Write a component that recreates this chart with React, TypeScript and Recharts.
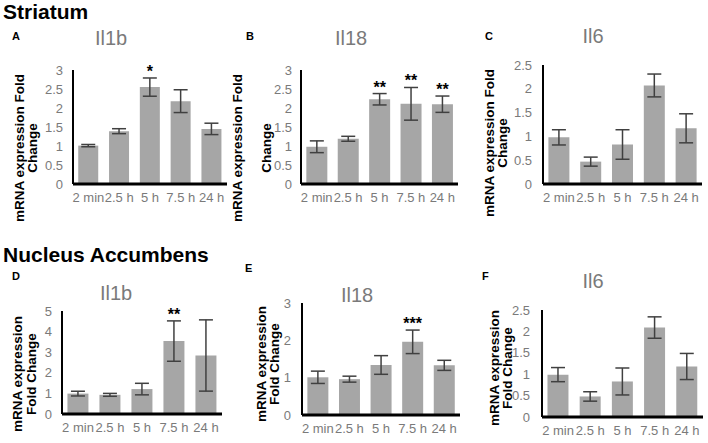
import { BarChart, Bar, XAxis, YAxis, ErrorBar, LabelList } from 'recharts'

const timePoints = ['2 min', '2.5 h', '5 h', '7.5 h', '24 h']

// Striatum
const strIl1b = [1.01, 1.39, 2.55, 2.18, 1.45]
const strIl1bErr = [0.03, 0.065, 0.24, 0.3, 0.15]
const strIl1bSig = ['', '', '*', '', '']

const strIl18 = [0.98, 1.19, 2.23, 2.11, 2.1]
const strIl18Err = [0.155, 0.065, 0.15, 0.43, 0.215]
const strIl18Sig = ['', '', '**', '**', '**']

const strIl6 = [0.98, 0.47, 0.83, 2.07, 1.17]
const strIl6Err = [0.16, 0.095, 0.31, 0.24, 0.305]
const strIl6Sig = ['', '', '', '', '']

// Nucleus Accumbens
const naIl1b = [0.99, 0.93, 1.21, 3.54, 2.84]
const naIl1bErr = [0.115, 0.07, 0.28, 0.98, 1.73]
const naIl1bSig = ['', '', '', '**', '']

const naIl18 = [1.01, 0.96, 1.34, 1.96, 1.33]
const naIl18Err = [0.165, 0.08, 0.25, 0.315, 0.135]
const naIl18Sig = ['', '', '', '***', '']

const naIl6 = [0.99, 0.48, 0.83, 2.09, 1.18]
const naIl6Err = [0.165, 0.11, 0.315, 0.25, 0.305]
const naIl6Sig = ['', '', '', '', '']

const ticks3 = [0, 0.5, 1, 1.5, 2, 2.5, 3]
const ticks25 = [0, 0.5, 1, 1.5, 2, 2.5]
const ticks5 = [0, 1, 2, 3, 4, 5]
const ticks3int = [0, 1, 2, 3]

const FONT = '"Liberation Sans", Arial, sans-serif'
const GRAY = '#7a7a7a'

interface Row {
  time: string
  value: number
  err: number
  sig: string
}

function makeRows(vals: number[], errs: number[], sigs: string[]): Row[] {
  return timePoints.map((t, i) => ({ time: t, value: vals[i], err: errs[i], sig: sigs[i] }))
}

function SigLabel(props: any) {
  const { x, y, width, height, index, rows } = props
  const row: Row = rows[index]
  if (!row || !row.sig) return null
  const ppu = height / row.value
  const top = y - row.err * ppu
  return (
    <text
      x={x + width / 2}
      y={top - 1}
      textAnchor="middle"
      fontSize={16}
      fontWeight="bold"
      fontFamily={FONT}
      fill="#000"
    >
      {row.sig}
    </text>
  )
}

interface PanelProps {
  rows: Row[]
  ticks: number[]
  left: number
  top: number
  width: number
  height: number
  mTop: number
  mRight: number
  axisW: number
  tickGap: number
}

function Panel({ rows, ticks, left, top, width, height, mTop, mRight, axisW, tickGap }: PanelProps) {
  return (
    <div style={{ position: 'absolute', left, top, width, height }}>
      <BarChart
        width={width}
        height={height}
        data={rows}
        margin={{ top: mTop, right: mRight, left: 0, bottom: 0 }}
        barCategoryGap="17%"
      >
        <XAxis
          dataKey="time"
          interval={0}
          height={26}
          tickLine={false}
          tickMargin={3}
          axisLine={{ stroke: '#000', strokeWidth: 3 }}
          tick={{ fill: GRAY, fontSize: 13, fontFamily: FONT }}
        />
        <YAxis
          domain={[0, ticks[ticks.length - 1]]}
          ticks={ticks}
          interval={0}
          width={axisW}
          tickLine={false}
          tickMargin={tickGap}
          axisLine={{ stroke: '#000', strokeWidth: 2 }}
          tick={{ fill: GRAY, fontSize: 13, fontFamily: FONT }}
        />
        <Bar dataKey="value" fill="#a6a6a6" isAnimationActive={false}>
          <ErrorBar dataKey="err" width={7} stroke="#404040" strokeWidth={1.5} isAnimationActive={false} />
          <LabelList dataKey="sig" content={(p: any) => <SigLabel {...p} rows={rows} />} />
        </Bar>
      </BarChart>
    </div>
  )
}

function YLabel({ x1, x2, cy, l1, l2 }: { x1: number; x2: number; cy: number; l1: string; l2: string }) {
  return (
    <g fontFamily={FONT} fontWeight="bold" fontSize={13.5} fill="#000" textAnchor="middle">
      <text transform={`translate(${x1},${cy}) rotate(-90)`}>{l1}</text>
      <text transform={`translate(${x2},${cy}) rotate(-90)`}>{l2}</text>
    </g>
  )
}

export default function App() {
  return (
    <div
      style={{
        position: 'absolute',
        left: 0,
        top: 0,
        width: 708,
        height: 443,
        background: '#fff',
        overflow: 'hidden',
        fontFamily: FONT,
      }}
    >
      <svg width={708} height={443} style={{ position: 'absolute', left: 0, top: 0 }}>
        <g fontFamily={FONT} fontWeight="bold" fill="#000" fontSize={21}>
          <text x={3} y={19}>Striatum</text>
          <text x={3} y={262}>Nucleus Accumbens</text>
        </g>
        <g fontFamily={FONT} fontWeight="bold" fill="#000" fontSize={11}>
          <text x={12} y={40}>A</text>
          <text x={246} y={40}>B</text>
          <text x={485} y={40}>C</text>
          <text x={12} y={280}>D</text>
          <text x={245} y={272}>E</text>
          <text x={482} y={280}>F</text>
        </g>
        <g fontFamily={FONT} fill={GRAY} fontSize={20} textAnchor="middle">
          <text x={111} y={45}>Il1b</text>
          <text x={351} y={45}>Il18</text>
          <text x={593} y={43}>Il6</text>
          <text x={116} y={300}>Il1b</text>
          <text x={357} y={302}>Il18</text>
          <text x={593} y={288}>Il6</text>
        </g>
        <YLabel x1={24} x2={37} cy={148} l1="mRNA expression Fold" l2="Change" />
        <YLabel x1={242} x2={271} cy={148} l1="mRNA expression Fold" l2="Change" />
        <YLabel x1={494} x2={507} cy={143} l1="mRNA expression Fold" l2="Change" />
        <YLabel x1={22} x2={36} cy={374} l1="mRNA expression" l2="Fold Change" />
        <YLabel x1={266} x2={279} cy={364} l1="mRNA expression" l2="Fold Change" />
        <YLabel x1={499} x2={512} cy={368} l1="mRNA expression" l2="Fold Change" />
      </svg>

      <Panel rows={makeRows(strIl1b, strIl1bErr, strIl1bSig)} ticks={ticks3}
        left={40} top={60} width={195} height={150} mTop={10} mRight={8} axisW={33} tickGap={4} />
      <Panel rows={makeRows(strIl18, strIl18Err, strIl18Sig)} ticks={ticks3}
        left={265} top={60} width={200} height={150} mTop={10} mRight={7} axisW={36} tickGap={3} />
      <Panel rows={makeRows(strIl6, strIl6Err, strIl6Sig)} ticks={ticks25}
        left={505} top={55} width={203} height={155} mTop={10} mRight={6} axisW={38} tickGap={5} />
      <Panel rows={makeRows(naIl1b, naIl1bErr, naIl1bSig)} ticks={ticks5}
        left={30} top={300} width={200} height={140} mTop={11} mRight={8} axisW={32} tickGap={4} />
      <Panel rows={makeRows(naIl18, naIl18Err, naIl18Sig)} ticks={ticks3int}
        left={265} top={290} width={200} height={151} mTop={13} mRight={5} axisW={37} tickGap={5} />
      <Panel rows={makeRows(naIl6, naIl6Err, naIl6Sig)} ticks={ticks25}
        left={505} top={300} width={203} height={143} mTop={10} mRight={5} axisW={37} tickGap={6} />
    </div>
  )
}
